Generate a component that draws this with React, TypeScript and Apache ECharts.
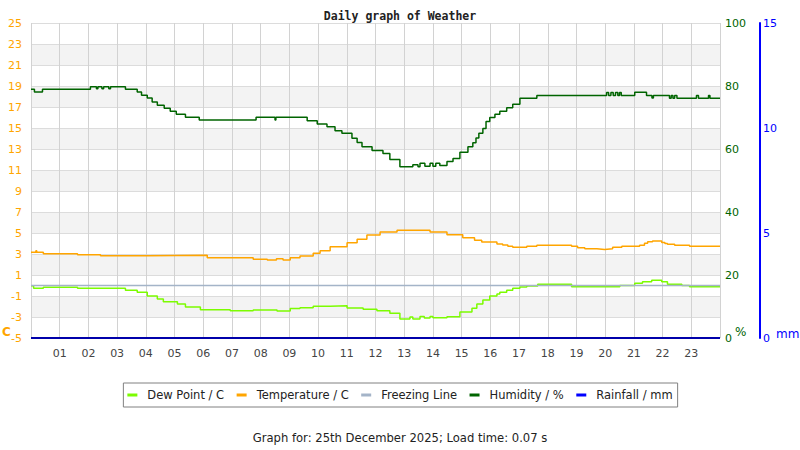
import React, { useEffect, useRef } from 'react'
import * as echarts from 'echarts'

// hour labels under the axis
const hourLabels = ['01', '02', '03', '04', '05', '06', '07', '08', '09', '10', '11', '12',
  '13', '14', '15', '16', '17', '18', '19', '20', '21', '22', '23']

const seriesNames = ['Dew Point / C', 'Temperature / C', 'Freezing Line', 'Humidity / %', 'Rainfall / mm']

// change points (hour of day) and the value held from that hour on
const dewHours = [0, 0.09, 0.43, 1.62, 3.29, 3.7, 4.05, 4.4, 4.61, 5.1, 5.38, 5.9, 6.94, 7.74, 8.57,
  9.03, 9.37, 9.83, 10.42, 11.01, 11.57, 12.05, 12.5, 12.85, 13.2, 13.3, 13.55, 13.7, 13.9, 14.0,
  14.49, 14.94, 15.36, 15.53, 15.74, 15.98, 16.23, 16.33, 16.57, 16.78, 17.03, 17.27, 17.65,
  18.83, 20.51, 21.03, 21.3, 21.62, 21.97, 22.17, 22.67, 22.94, 24]
const dewValues = [-0.02, -0.27, -0.17, -0.27, -0.46, -0.65, -1.0, -1.29, -1.54, -1.76, -2.05, -2.3,
  -2.4, -2.33, -2.43, -2.2, -2.11, -1.98, -1.92, -2.14, -2.27, -2.4, -2.65, -3.19, -3.0, -3.19,
  -2.95, -3.1, -2.95, -3.07, -2.97, -2.52, -2.17, -1.76, -1.38, -1.0, -0.81, -0.65, -0.46, -0.27,
  -0.14, -0.05, 0.11, -0.11, 0, 0.21, 0.36, 0.49, 0.36, 0.11, 0, -0.11, -0.11]

const tempHours = [0, 0.17, 0.2, 0.43, 1.62, 2.42, 4.05, 6.14, 7.74, 8.23, 8.55, 8.78, 9.03, 9.37,
  9.83, 10.07, 10.42, 11.01, 11.36, 11.7, 12.16, 12.75, 13.9, 14.49, 15.04, 15.45, 15.7, 16.23,
  16.43, 16.61, 16.78, 17.27, 17.62, 18.83, 19.04, 19.29, 19.71, 19.98, 20.26, 20.58, 21.2, 21.37,
  21.48, 21.65, 21.97, 22.08, 22.17, 22.42, 22.94, 24]
const tempValues = [3.16, 3.3, 3.16, 3.03, 2.93, 2.84, 2.88, 2.64, 2.5, 2.43, 2.55, 2.43, 2.65, 2.81,
  3.07, 3.32, 3.7, 4.08, 4.4, 4.81, 5.1, 5.26, 5.1, 4.84, 4.55, 4.3, 4.14, 3.95, 3.86, 3.73, 3.64,
  3.73, 3.83, 3.73, 3.6, 3.5, 3.44, 3.5, 3.64, 3.73, 3.83, 4.02, 4.17, 4.24, 4.1, 4.0, 3.92, 3.83,
  3.73, 3.73]

const freezeHours = [0, 24]
const freezeValues = [0, 0]

const humidityHours = [0, 0.12, 0.4, 2.07, 2.28, 2.33, 2.47, 2.53, 2.71, 2.77, 3.29, 3.7, 3.85,
  4.05, 4.22, 4.4, 4.64, 4.85, 5.06, 5.38, 5.86, 7.84, 8.5, 8.53, 9.62, 9.97, 10.31, 10.59, 10.83,
  11.18, 11.36, 11.53, 11.88, 12.26, 12.5, 12.85, 13.3, 13.48, 13.55, 13.72, 13.9, 14.0, 14.1,
  14.24, 14.49, 14.7, 14.94, 15.22, 15.39, 15.5, 15.6, 15.74, 15.85, 15.98, 16.16, 16.33, 16.57,
  16.78, 17.03, 17.62, 20.05, 20.12, 20.2, 20.28, 20.36, 20.44, 20.5, 20.56, 21.03, 21.44, 21.63,
  21.68, 22.24, 22.3, 22.36, 22.42, 22.5, 23.18, 23.25, 23.6, 23.65, 24]
const humidityValues = [79, 78.1, 79, 79.8, 79.1, 79.8, 79.1, 79.8, 79.1, 79.8, 79, 78.1, 77.1,
  76.2, 74.9, 73.9, 72.9, 72, 71, 70.1, 69.2, 70.1, 69.2, 70.1, 69.0, 67.9, 67.1, 65.8, 65.0,
  63.4, 62.1, 60.7, 59.5, 58.6, 56.7, 54.4, 55.0, 54.4, 55.5, 54.5, 55.5, 54.5, 55.5, 54.8, 56,
  57, 59, 60.7, 62, 63.5, 65, 66.5, 68.7, 70, 71, 72, 73.1, 74.2, 76.1, 77, 77.9, 77, 77.9, 77,
  77.9, 77, 77.9, 77, 78, 77, 76.2, 77, 76.1, 77, 76.1, 77, 76.1, 77, 76.1, 77, 76.1, 76.1]

const rainHours = [0, 24]
const rainValues = [0, 0]

const zip = (xs: number[], ys: number[]) => xs.map((x, i) => [x, ys[i]])

const font = 'DejaVu Sans'

const App: React.FC = () => {
  const chartRef = useRef<HTMLDivElement>(null)

  useEffect(() => {
    if (!chartRef.current) return
    const chart = echarts.init(chartRef.current, undefined, { renderer: 'svg' })

    const line = (name: string, color: string, data: number[][], yAxisIndex: number, width = 1.5) => ({
      name,
      type: 'line',
      step: 'end',
      yAxisIndex,
      data,
      symbol: 'none',
      color,
      lineStyle: { color, width },
      emphasis: { disabled: true }
    })

    const option: echarts.EChartsOption = {
      animation: false,
      backgroundColor: '#ffffff',
      textStyle: { fontFamily: font },
      title: [
        {
          text: 'Daily graph of Weather',
          left: 'center',
          top: 5,
          textStyle: { fontFamily: 'DejaVu Sans Mono', fontSize: 11.5, fontWeight: 'bold', color: '#222' }
        },
        {
          text: 'Graph for: 25th December 2025; Load time: 0.07 s',
          left: 'center',
          top: 427,
          textStyle: { fontFamily: font, fontSize: 11.6, fontWeight: 'normal', color: '#222' }
        }
      ],
      legend: {
        data: seriesNames,
        left: 'center',
        top: 383,
        padding: [6, 5, 6, 4],
        borderColor: '#808080',
        borderWidth: 1,
        itemWidth: 10,
        itemHeight: 3,
        itemGap: 12.5,
        icon: 'rect',
        selectedMode: false,
        textStyle: { fontFamily: font, fontSize: 11.5, color: '#222', padding: [0, 0, 0, 5] }
      },
      grid: { left: 31, right: 80, top: 23, bottom: 112 },
      xAxis: {
        type: 'value',
        min: 0,
        max: 24,
        interval: 1,
        axisLine: { show: false },
        axisTick: { show: false },
        axisLabel: {
          color: '#444',
          fontSize: 11,
          margin: 10,
          formatter: (v: number) => (v >= 1 && v <= 23 ? hourLabels[v - 1] : '')
        },
        splitLine: { show: true, lineStyle: { color: '#d2d2d2', width: 1 } }
      },
      yAxis: [
        {
          type: 'value',
          min: -5,
          max: 25,
          interval: 2,
          position: 'left',
          axisLine: { show: false },
          axisTick: { show: false },
          axisLabel: { color: '#ffa500', fontSize: 11, margin: 9 },
          splitLine: { show: true, lineStyle: { color: '#dcdcdc', width: 1 } },
          splitArea: { show: true, areaStyle: { color: ['#ffffff', '#f3f3f3'] } }
        },
        {
          type: 'value',
          min: 0,
          max: 100,
          interval: 20,
          position: 'right',
          axisLine: { show: false },
          axisTick: { show: false },
          axisLabel: { color: '#006400', fontSize: 11, margin: 5 },
          splitLine: { show: false }
        },
        {
          type: 'value',
          min: 0,
          max: 15,
          interval: 5,
          position: 'right',
          offset: 40,
          axisLine: { show: true, lineStyle: { color: '#0000ff', width: 2 } },
          axisTick: { show: false },
          axisLabel: { color: '#0000ff', fontSize: 11, margin: 3 },
          splitLine: { show: false }
        }
      ],
      graphic: [
        { type: 'text', left: 2, top: 326, style: { text: 'C', fill: '#ffa500', font: 'bold 12px "DejaVu Sans"' } },
        { type: 'text', left: 735, top: 326, style: { text: '%', fill: '#006400', font: '12px "DejaVu Sans"' } },
        { type: 'text', left: 776, top: 328, style: { text: 'mm', fill: '#0000ff', font: '12px "DejaVu Sans"' } }
      ],
      series: [
        line(seriesNames[0], '#7cfc00', zip(dewHours, dewValues), 0),
        line(seriesNames[1], '#ffa500', zip(tempHours, tempValues), 0),
        line(seriesNames[2], '#a4b4c8', zip(freezeHours, freezeValues), 0),
        line(seriesNames[3], '#006400', zip(humidityHours, humidityValues), 1),
        { ...line(seriesNames[4], '#0000ff', zip(rainHours, rainValues), 2, 2), lineStyle: { color: '#0000aa', width: 2 } }
      ] as any
    }

    chart.setOption(option)
    return () => {
      chart.dispose()
    }
  }, [])

  return <div ref={chartRef} style={{ position: 'fixed', left: 0, top: 0, width: 800, height: 450 }} />
}

export default App
